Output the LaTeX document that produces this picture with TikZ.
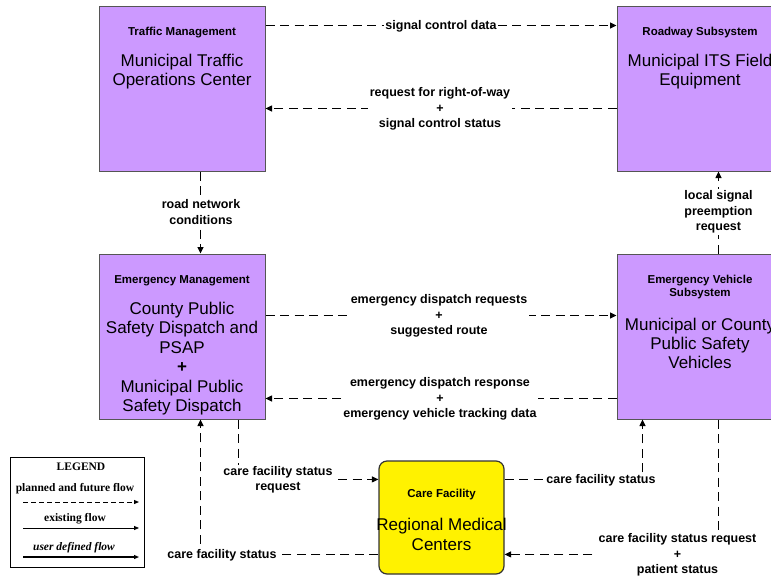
\documentclass[tikz,border=0pt]{standalone}
\usepackage{fontspec}
\setmainfont{Liberation Sans}
\newfontfamily\legfont{Liberation Serif}
\usetikzlibrary{arrows.meta,calc}
\definecolor{boxpurple}{HTML}{CC99FF}
\definecolor{boxedge}{HTML}{555555}
\begin{document}
\begin{tikzpicture}[x=1pt,y=-1pt,
  sysbox/.style={draw=boxedge, fill=boxpurple, line width=1pt, minimum width=166pt, minimum height=165pt, inner sep=0pt},
  carebox/.style={draw=black!80, fill=yellow, line width=1.2pt, rounded corners=8pt, minimum width=125pt, minimum height=113pt, inner sep=0pt},
  hdr/.style={font=\bfseries\fontsize{11.5}{13}\selectfont, align=center, inner sep=0pt},
  maintxt/.style={font=\fontsize{17}{19.4}\selectfont, align=center, inner sep=0pt},
  lbl/.style={fill=white, font=\bfseries\fontsize{12.5}{15.5}\selectfont, align=center, inner sep=1.5pt},
  flow/.style={draw, line width=0.9pt, dash pattern=on 9pt off 5.5pt, -{Triangle[length=6.5pt,width=6pt]}},
  legtxt/.style={font=\legfont\bfseries\fontsize{11.5}{13}\selectfont, inner sep=0pt},
  legarrow/.style={draw, line width=0.8pt, -{Triangle[length=5pt,width=4pt]}}
]
\useasboundingbox (0,0) rectangle (771,579);
\clip (0,0) rectangle (771,579);
\fill[white] (0,0) rectangle (771,579);

% boxes
\node[sysbox] (tm) at (182,88.5) {};
\node[sysbox] (rs) at (700,88.5) {};
\node[sysbox] (em) at (182,336.5) {};
\node[sysbox] (ev) at (700,336.5) {};
\node[carebox] (cf) at (441.5,517.5) {};

\node[hdr] (tmh) at ($(tm.north)+(0,27)$) {Traffic Management};
\node[maintxt] (tmm) at ($(tm.north)+(0,66)$) {Municipal Traffic\\Operations Center};
\node[hdr] (rsh) at ($(rs.north)+(0,27)$) {Roadway Subsystem};
\node[maintxt] (rsm) at ($(rs.north)+(0,66)$) {Municipal ITS Field\\Equipment};
\node[hdr] (emh) at ($(em.north)+(0,27)$) {Emergency Management};
\node[maintxt] (emm) at ($(em.north)+(0,105)$) {County Public\\Safety Dispatch and\\PSAP\\\textbf{+}\\Municipal Public\\Safety Dispatch};
\node[hdr] (evh) at ($(ev.north)+(0,34)$) {Emergency Vehicle\\Subsystem};
\node[maintxt] (evm) at ($(ev.north)+(0,90)$) {Municipal or County\\Public Safety\\Vehicles};
\node[hdr] (cfh) at ($(cf.north)+(0,34)$) {Care Facility};
\node[maintxt] (cfm) at ($(cf.north)+(0,74)$) {Regional Medical\\Centers};

% connectors
\draw[flow] ($(tm.north east)+(0,20)$) -- ($(rs.north west)+(0,20)$);
\draw[flow] ($(rs.north west)+(0,103)$) -- ($(tm.north east)+(0,103)$);
\draw[flow] ($(tm.south west)+(102,0)$) -- ($(em.north west)+(102,0)$);
\draw[flow] ($(ev.north west)+(102,0)$) -- ($(rs.south west)+(102,0)$);
\draw[flow] ($(em.north east)+(0,62)$) -- ($(ev.north west)+(0,62)$);
\draw[flow] ($(ev.north west)+(0,145)$) -- ($(em.north east)+(0,145)$);
\draw[flow] ($(em.south west)+(140,0)$) |- ($(cf.north west)+(0,19)$);
\draw[flow] ($(cf.north east)+(0,19)$) -| ($(ev.south west)+(26,0)$);
\draw[flow] ($(cf.north west)+(0,94)$) -| ($(em.south west)+(102,0)$);
\draw[flow] ($(ev.south west)+(102,0)$) |- ($(cf.north east)+(0,94)$);

% labels
\node[lbl] (l1) at (441,26) {signal control data};
\node[lbl] (l2) at (440,109) {request for right-of-way\\+\\signal control status};
\node[lbl] (l3) at (201,212) {road network\\conditions};
\node[lbl] (l4) at (718.5,212) {local signal\\preemption\\request};
\node[lbl] (l5) at (439,316) {emergency dispatch requests\\+\\suggested route};
\node[lbl] (l6) at (440,399) {emergency dispatch response\\+\\emergency vehicle tracking data};
\node[lbl] (l7) at (278,480) {care facility status\\request};
\node[lbl] (l8) at (601,480) {care facility status};
\node[lbl] (l9) at (222,555) {care facility status};
\node[lbl] (l10) at (677.5,555) {care facility status request\\+\\patient status};

% legend
\node[draw, line width=0.8pt, minimum width=134pt, minimum height=110pt, inner sep=0pt] (leg) at (77,512) {};
\node[legtxt] (lg1) at (81,467) {LEGEND};
\node[legtxt] (lg2) at (75,489) {planned and future flow};
\node[legtxt] (lg3) at (75,519) {existing flow};
\node[legtxt, font=\legfont\bfseries\itshape\fontsize{11.5}{13}\selectfont] (lg4) at (74,548) {user defined flow};
\coordinate (a1) at (23,502); \coordinate (b1) at (139,502);
\coordinate (a2) at (23,528); \coordinate (b2) at (139,528);
\coordinate (a3) at (23,557); \coordinate (b3) at (139,557);
\draw[legarrow, line width=1pt, dash pattern=on 5pt off 3pt] (a1) -- (b1);
\draw[legarrow] (a2) -- (b2);
\draw[legarrow, line width=1.1pt] (a3) -- (b3);
\end{tikzpicture}
\end{document}
